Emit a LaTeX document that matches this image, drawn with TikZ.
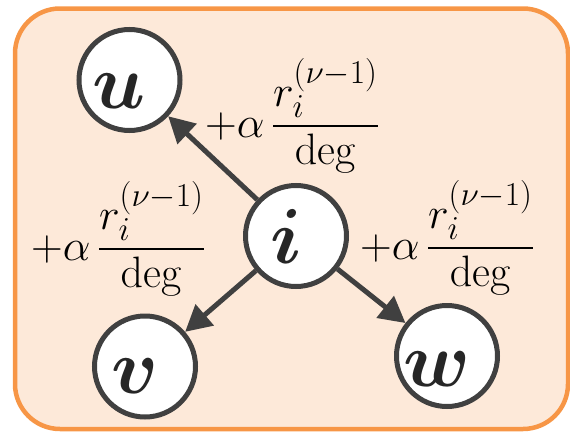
\RequirePackage{fix-cm}
\documentclass[tikz,border=0pt]{standalone}
\usepackage{amsmath,bm}
\usetikzlibrary{arrows.meta}
\renewcommand\defaultscriptratio{.76}
\definecolor{peach}{HTML}{FDE9D9}
\definecolor{orng}{HTML}{F79646}
\definecolor{dgray}{HTML}{404040}
\definecolor{ltr}{HTML}{262626}
\newcommand\edgefrac{$\displaystyle +\alpha\,\genfrac{}{}{2.4pt}{0}{r_i^{(\nu-1)}}{\raisebox{6pt}{$\mathrm{deg}$}}$}
\begin{document}
\begin{tikzpicture}[x=1pt,y=-1pt,
  vertex/.style={circle,draw=dgray,line width=5pt,fill=white,minimum size=101pt,inner sep=0pt},
  letter/.style={anchor=base,inner sep=0pt,text=ltr,font=\fontsize{78}{80}\selectfont},
  edgelab/.style={anchor=base west,inner sep=0pt,font=\fontsize{44}{50}\selectfont},
  arr/.style={draw=dgray,line width=5pt,-{Triangle[length=26pt,width=27pt]}}]
\useasboundingbox (0,0) rectangle (570,431);
\draw[orng,line width=4.5pt,fill=peach,rounded corners=45pt] (15,8.5) rectangle (568,429);
\node[vertex] (u) at (129.5,80) {};
\node[vertex] (i) at (296,236) {};
\node[vertex] (v) at (145,366.5) {};
\node[vertex] (w) at (447,356) {};
\node[letter,xshift=-10pt,yshift=-28pt] (ul) at (u) {$\bm{u}$};
\node[letter,xshift=-10pt,yshift=-27pt] (il) at (i) {$\bm{i}$};
\node[letter,xshift=-10pt,yshift=-27pt] (vl) at (v) {$\bm{v}$};
\node[letter,xshift=-10pt,yshift=-30pt] (wl) at (w) {$\bm{w}$};
\draw[arr] (i) -- (u);
\draw[arr] (i) -- (v);
\draw[arr] (i) -- (w);
\node[edgelab] (lu) at (205,137) {\edgefrac};
\node[edgelab] (lv) at (31,260) {\edgefrac};
\node[edgelab] (lw) at (360,259) {\edgefrac};
\end{tikzpicture}
\end{document}
